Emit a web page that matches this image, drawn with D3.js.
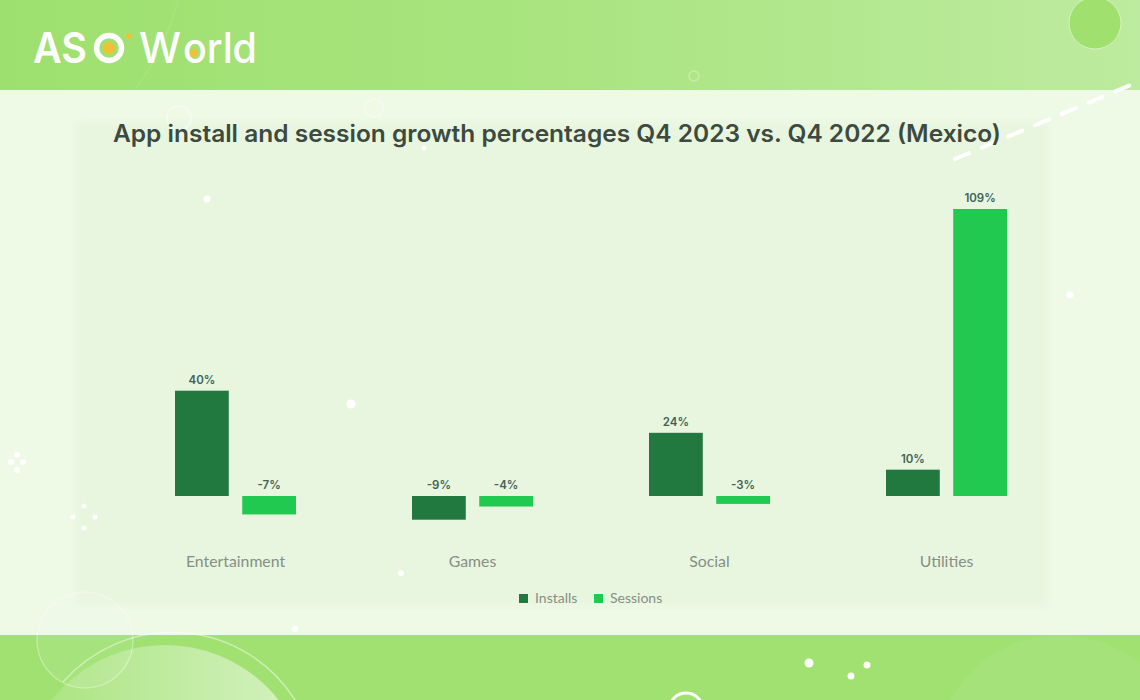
<!DOCTYPE html>
<html>
<head>
<meta charset="utf-8">
<script src="https://cdn.jsdelivr.net/npm/d3@7"></script>
<style>
  html, body { margin: 0; padding: 0; background: #eef9e6; }
  svg { display: block; font-family: Lato, sans-serif; }
</style>
</head>
<body>
<svg id="chart" width="1140" height="700"></svg>
<script>
// chart data
const categories = ['Entertainment', 'Games', 'Social', 'Utilities'];
const seriesNames = ['Installs', 'Sessions'];
const installs = [40, -9, 24, 10];
const sessions = [-7, -4, -3, 109];
const seriesColors = ['#22793f', '#22c951'];

const svg = d3.select('#chart');
const defs = svg.append('defs');

let headGrad = defs.append('linearGradient').attr('id', 'headGrad');
headGrad.append('stop').attr('offset', '0%').attr('stop-color', '#9ee06f');
headGrad.append('stop').attr('offset', '45%').attr('stop-color', '#a8e47e');
headGrad.append('stop').attr('offset', '100%').attr('stop-color', '#bdeb9f');

defs.append('filter').attr('id', 'soft').attr('x', '-5%').attr('y', '-5%').attr('width', '110%').attr('height', '110%')
  .append('feGaussianBlur').attr('stdDeviation', 3);

let arcGrad = defs.append('linearGradient').attr('id', 'arcGrad');
arcGrad.append('stop').attr('offset', '0%').attr('stop-color', '#ffffff').attr('stop-opacity', 0.08);
arcGrad.append('stop').attr('offset', '75%').attr('stop-color', '#ffffff').attr('stop-opacity', 0.45);
arcGrad.append('stop').attr('offset', '100%').attr('stop-color', '#ffffff').attr('stop-opacity', 0.55);

// page background bands
svg.append('rect').attr('width', 1140).attr('height', 90).attr('fill', 'url(#headGrad)');
svg.append('rect').attr('y', 90).attr('width', 1140).attr('height', 545).attr('fill', '#eef9e6');
svg.append('rect').attr('x', 76).attr('y', 122).attr('width', 972).attr('height', 484).attr('fill', '#e9f6df').attr('filter', 'url(#soft)');
svg.append('rect').attr('y', 635).attr('width', 1140).attr('height', 65).attr('fill', '#a0e171');

// decoration: big arcs and bubbles
svg.append('path').attr('d', 'M178 0 Q165 50 135 90').attr('fill', 'none').attr('stroke', '#ffffff').attr('stroke-opacity', 0.12);
svg.append('circle').attr('cx', 165).attr('cy', 790).attr('r', 145).attr('fill', 'url(#arcGrad)');
svg.append('path').attr('d', 'M63 682 A145 145 0 0 1 295 700').attr('fill', 'none').attr('stroke', '#ffffff').attr('stroke-opacity', 0.45).attr('stroke-width', 1.5);
svg.append('circle').attr('cx', 1060).attr('cy', 760).attr('r', 125).attr('fill', '#ffffff').attr('fill-opacity', 0.06);
svg.append('circle').attr('cx', 85).attr('cy', 640).attr('r', 48).attr('fill', '#ffffff').attr('fill-opacity', 0.08).attr('stroke', '#ffffff').attr('stroke-opacity', 0.4).attr('stroke-width', 1.2);
svg.append('circle').attr('cx', 1095).attr('cy', 23).attr('r', 26).attr('fill', '#9fe06f').attr('stroke', '#d4f3bf').attr('stroke-width', 1);
svg.append('circle').attr('cx', 179).attr('cy', 118).attr('r', 12).attr('fill', 'none').attr('stroke', '#ffffff').attr('stroke-opacity', 0.5).attr('stroke-width', 1.5);
svg.append('circle').attr('cx', 374).attr('cy', 108).attr('r', 9).attr('fill', 'none').attr('stroke', '#ffffff').attr('stroke-opacity', 0.4).attr('stroke-width', 1.5);
svg.append('circle').attr('cx', 694).attr('cy', 76).attr('r', 5).attr('fill', 'none').attr('stroke', '#ffffff').attr('stroke-opacity', 0.3).attr('stroke-width', 1.5);
svg.append('circle').attr('cx', 686).attr('cy', 710).attr('r', 17).attr('fill', 'none').attr('stroke', '#ffffff').attr('stroke-width', 3);
svg.append('path').attr('d', 'M955 159 L1140 81').attr('fill', 'none').attr('stroke', '#ffffff').attr('stroke-width', 4)
  .attr('stroke-linecap', 'round').attr('stroke-dasharray', '15 14');

// small white dots
const dots = [[207, 199, 3.5], [351, 404, 4.5], [1070, 295, 3.5], [401, 573, 3], [295, 629, 3], [17, 455, 3], [11, 462, 3], [23, 462, 3], [17, 470, 3],
  [84, 506, 2.5], [73, 517, 2.5], [95, 517, 2.5], [84, 528, 2.5], [809, 663, 4.5], [851, 676, 3.5], [867, 665, 3.5], [424, 148, 2.5]];
svg.append('g').selectAll('circle').data(dots).join('circle')
  .attr('cx', d => d[0]).attr('cy', d => d[1]).attr('r', d => d[2]).attr('fill', '#ffffff');

// logo
const logo = svg.append('g').attr('fill', '#ffffff').style('font-family', 'Inter, sans-serif').style('font-weight', 600);
logo.append('text').attr('x', 33).attr('y', 63).style('font-size', '42px').attr('textLength', 54).attr('lengthAdjust', 'spacingAndGlyphs').text('AS');
logo.append('circle').attr('cx', 109).attr('cy', 48).attr('r', 12.5).attr('fill', 'none').attr('stroke', '#ffffff').attr('stroke-width', 5.5);
logo.append('circle').attr('cx', 109).attr('cy', 48).attr('r', 6).attr('fill', '#f2c037');
logo.append('circle').attr('cx', 129).attr('cy', 36).attr('r', 2.8).attr('fill', '#f2c037');
logo.append('text').attr('x', 139).attr('y', 63).style('font-size', '42px').style('font-weight', 500).attr('textLength', 42).attr('lengthAdjust', 'spacingAndGlyphs').text('W');
logo.append('text').attr('x', 183).attr('y', 63).style('font-size', '42px').style('font-weight', 500).attr('textLength', 74).attr('lengthAdjust', 'spacingAndGlyphs').text('orld');
logo.append('circle').attr('cx', 194).attr('cy', 53).attr('r', 4).attr('fill', '#f2c037');

// title
svg.append('text')
  .attr('x', 557).attr('y', 142)
  .attr('text-anchor', 'middle')
  .attr('fill', '#3c4a3f')
  .attr('textLength', 888)
  .attr('lengthAdjust', 'spacingAndGlyphs')
  .style('font-family', 'Inter, sans-serif')
  .style('font-size', '24px')
  .style('font-weight', 600)
  .text('App install and session growth percentages Q4 2023 vs. Q4 2022 (Mexico)');

// scales
const x0 = d3.scaleBand().domain(categories).range([117, 1065]);
const x1 = d3.scaleBand().domain(seriesNames).range([-60.5, 60.5]).paddingInner(0.2);
const y = d3.scaleLinear().domain([0, 109]).range([496, 209]);

const rows = categories.map((c, i) => ({ category: c, values: [installs[i], sessions[i]] }));

const groups = svg.append('g').selectAll('g').data(rows).join('g')
  .attr('transform', d => `translate(${x0(d.category) + x0.bandwidth() / 2},0)`);

const cells = groups.selectAll('g')
  .data(d => d.values.map((v, i) => ({ name: seriesNames[i], value: v, color: seriesColors[i] })))
  .join('g');

cells.append('rect')
  .attr('x', d => x1(d.name))
  .attr('y', d => y(Math.max(0, d.value)))
  .attr('width', x1.bandwidth())
  .attr('height', d => Math.abs(y(d.value) - y(0)))
  .attr('fill', d => d.color);

// negative labels sit above the zero line too
cells.append('text')
  .attr('x', d => x1(d.name) + x1.bandwidth() / 2)
  .attr('y', d => y(Math.max(0, d.value)) - 7)
  .attr('text-anchor', 'middle')
  .attr('fill', '#3f6358')
  .style('font-family', 'Inter, sans-serif')
  .style('font-size', '11.5px')
  .style('font-weight', 600)
  .text(d => d.value + '%');

// category axis, no line or ticks
const xAxis = svg.append('g')
  .attr('transform', 'translate(0,567)')
  .call(d3.axisBottom(x0).tickSize(0).tickPadding(0));
xAxis.select('.domain').remove();
xAxis.selectAll('text')
  .attr('dy', 0)
  .attr('fill', '#858f85')
  .style('font-family', 'Lato, sans-serif')
  .style('font-size', '15.8px');

// legend
const legendX = d3.scaleOrdinal().domain(seriesNames).range([519, 594]);
const legend = svg.append('g').selectAll('g').data(seriesNames).join('g')
  .attr('transform', d => `translate(${legendX(d)},594)`);
legend.append('rect').attr('width', 9).attr('height', 9)
  .attr('fill', (d, i) => seriesColors[i]);
legend.append('text').attr('x', 16).attr('y', 9)
  .attr('fill', '#858f85')
  .style('font-size', '14px')
  .text(d => d);
</script>
</body>
</html>
